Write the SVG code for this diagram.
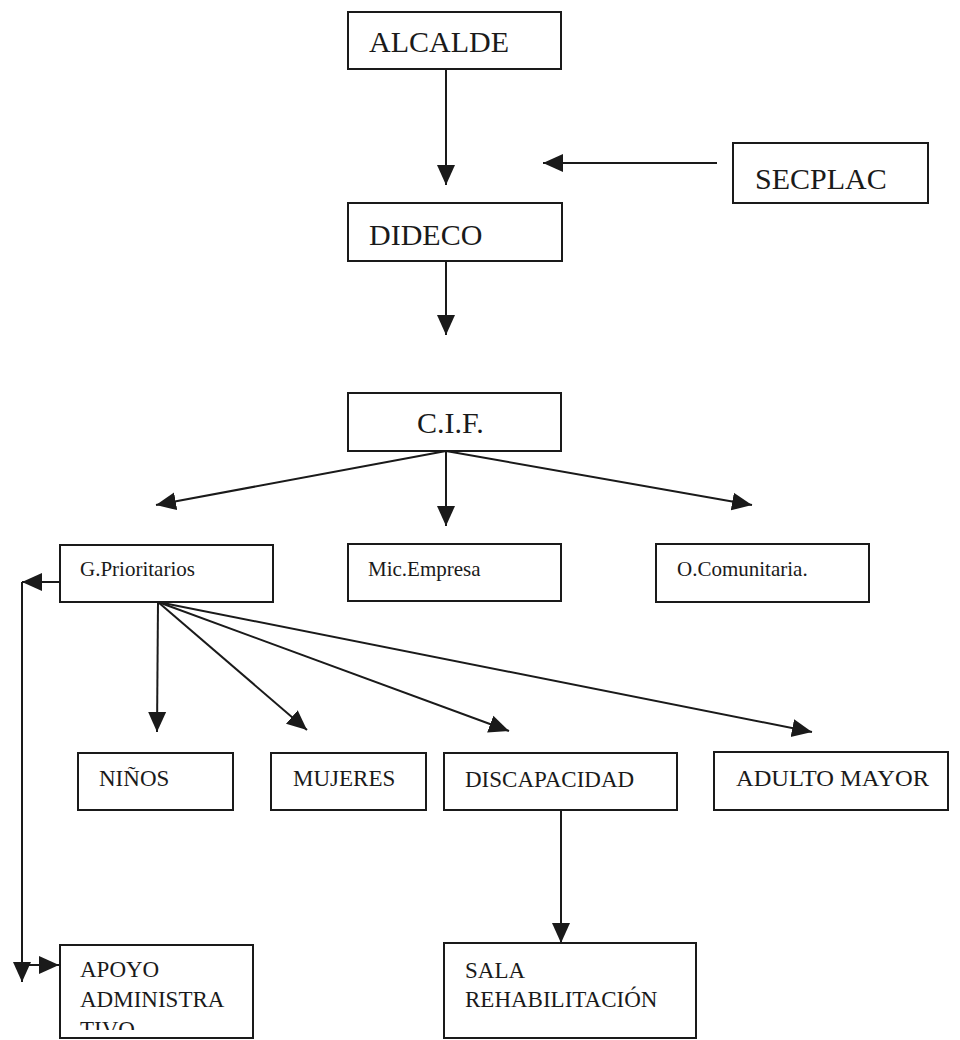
<svg xmlns="http://www.w3.org/2000/svg" width="960" height="1040" viewBox="0 0 960 1040">
<style>
.box{fill:#fff;stroke:#1a1a1a;stroke-width:2}
.big{font-size:30px}
.mid{font-size:23px}
.sm{font-size:21px}
.c{stroke:#1a1a1a;stroke-width:2;fill:none;marker-end:url(#ah)}
</style>
<defs>
<marker id="ah" viewBox="0 0 20 20" refX="20" refY="10" markerWidth="20" markerHeight="20" markerUnits="userSpaceOnUse" orient="auto">
<path d="M0,1 L20,10 L0,19 Z" fill="#1a1a1a"/>
</marker>
<clipPath id="clipApoyo"><rect x="61" y="946" width="191" height="84"/></clipPath>
</defs>
<rect width="960" height="1040" fill="#fff"/>
<g id="connectors">
<line class="c" x1="446" y1="69" x2="446" y2="185"/>
<line class="c" x1="717" y1="163" x2="543" y2="163"/>
<line class="c" x1="446" y1="261" x2="446" y2="335"/>
<line class="c" x1="446" y1="451" x2="156" y2="505"/>
<line class="c" x1="446" y1="451" x2="446" y2="526"/>
<line class="c" x1="446" y1="451" x2="752" y2="505"/>
<line class="c" x1="158" y1="602" x2="157" y2="732"/>
<line class="c" x1="158" y1="602" x2="307" y2="730"/>
<line class="c" x1="158" y1="602" x2="509" y2="731"/>
<line class="c" x1="158" y1="602" x2="812" y2="732"/>
<line class="c" x1="60" y1="582" x2="22" y2="582"/>
<line class="c" x1="22" y1="582" x2="22" y2="982"/>
<line class="c" x1="22" y1="965" x2="59" y2="965"/>
<line class="c" x1="561" y1="810" x2="561" y2="943"/>
</g>
<g font-family="'Liberation Serif', 'Times New Roman', 'DejaVu Serif', serif" fill="#1a1a1a">
<g id="alcalde"><rect class="box" x="348" y="12" width="213" height="57"/><text class="big" x="369" y="52">ALCALDE</text></g>
<g id="secplac"><rect class="box" x="733" y="143" width="195" height="60"/><text class="big" x="755" y="189">SECPLAC</text></g>
<g id="dideco"><rect class="box" x="348" y="203" width="214" height="58"/><text class="big" x="369" y="245">DIDECO</text></g>
<g id="cif"><rect class="box" x="348" y="393" width="213" height="58"/><text class="big" x="417" y="433">C.I.F.</text></g>
<g id="gprioritarios"><rect class="box" x="60" y="545" width="213" height="57"/><text class="sm" x="80" y="576">G.Prioritarios</text></g>
<g id="micempresa"><rect class="box" x="348" y="544" width="213" height="57"/><text class="sm" x="368" y="576">Mic.Empresa</text></g>
<g id="ocomunitaria"><rect class="box" x="656" y="544" width="213" height="58"/><text class="sm" x="677" y="576">O.Comunitaria.</text></g>
<g id="ninos"><rect class="box" x="78" y="753" width="155" height="57"/><text class="mid" x="99" y="786">NIÑOS</text></g>
<g id="mujeres"><rect class="box" x="271" y="753" width="155" height="57"/><text class="mid" x="293" y="786">MUJERES</text></g>
<g id="discapacidad"><rect class="box" x="444" y="753" width="233" height="57"/><text class="mid" x="465" y="787">DISCAPACIDAD</text></g>
<g id="adultomayor"><rect class="box" x="714" y="752" width="234" height="58"/><text class="mid" x="736" y="786" textLength="193" lengthAdjust="spacingAndGlyphs">ADULTO MAYOR</text></g>
<g id="apoyo"><rect class="box" x="60" y="945" width="193" height="93"/><g clip-path="url(#clipApoyo)"><text class="mid" x="80" y="977">APOYO</text><text class="mid" x="80" y="1007">ADMINISTRA</text><text class="mid" x="80" y="1037">TIVO</text></g></g>
<g id="sala"><rect class="box" x="444" y="943" width="252" height="95"/><text class="mid" x="465" y="978">SALA</text><text class="mid" x="465" y="1007">REHABILITACIÓN</text></g>
</g>
</svg>
